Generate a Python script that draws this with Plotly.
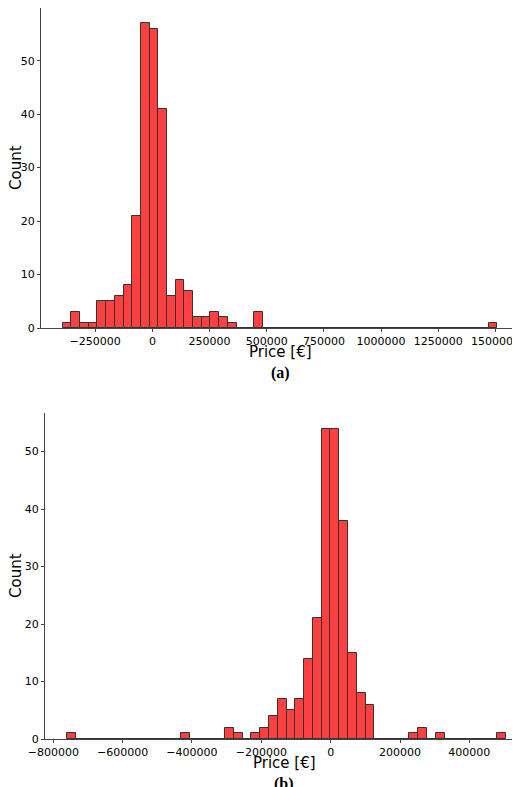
import plotly.graph_objects as go

# (a) histogram, 50 bins
a_start = -392000
a_width = 38000
a_counts = [1, 3, 1, 1, 5, 5, 6, 8, 21, 57, 56, 41, 6, 9, 7, 2, 2, 3, 2, 1,
            0, 0, 3, 0, 0, 0, 0, 0, 0, 0, 0, 0, 0, 0, 0, 0, 0, 0, 0, 0,
            0, 0, 0, 0, 0, 0, 0, 0, 0, 1]

# (b) histogram, 50 bins
b_start = -760600
b_width = 25330
b_counts = [1, 0, 0, 0, 0, 0, 0, 0, 0, 0, 0, 0, 0, 1, 0, 0, 0, 0, 2, 1,
            0, 1, 2, 4, 7, 5, 7, 14, 21, 54, 54, 38, 15, 8, 6, 0, 0, 0, 0, 1,
            2, 0, 1, 0, 0, 0, 0, 0, 0, 1]

a_x = [a_start + (i + 0.5) * a_width for i in range(len(a_counts))]
b_x = [b_start + (i + 0.5) * b_width for i in range(len(b_counts))]

bar_style = dict(marker=dict(color="rgba(255,30,30,0.85)",
                             line=dict(color="#333333", width=1)),
                 showlegend=False)

fig = go.Figure()
fig.add_trace(go.Bar(x=a_x, y=a_counts, width=a_width, xaxis="x", yaxis="y", **bar_style))
fig.add_trace(go.Bar(x=b_x, y=b_counts, width=b_width, xaxis="x2", yaxis="y2", **bar_style))

W, H = 520, 787
axis_common = dict(showline=True, linecolor="#444", linewidth=1.2, ticks="outside",
                   ticklen=3, tickcolor="#444", showgrid=False, zeroline=False,
                   automargin=False, tickangle=0,
                   tickfont=dict(family="DejaVu Sans", size=11, color="black"))

fig.update_layout(
    width=W, height=H, margin=dict(l=0, r=0, t=0, b=0),
    plot_bgcolor="white", paper_bgcolor="white", bargap=0,
    xaxis=dict(domain=[33 / W, 511 / W], range=[-487000, 1603000],
               tickvals=[-250000, 0, 250000, 500000, 750000, 1000000, 1250000, 1500000],
               ticktext=["\u2212250000", "0", "250000", "500000", "750000", "1000000", "1250000", "1500000"],
               anchor="y", **axis_common),
    yaxis=dict(domain=[1 - 320 / H, 1], range=[0, 59.85], tickvals=[0, 10, 20, 30, 40, 50],
               anchor="x", **axis_common),
    xaxis2=dict(domain=[37 / W, 1], range=[-823900, 569200],
                tickvals=[-800000, -600000, -400000, -200000, 0, 200000, 400000],
                ticktext=["\u2212800000", "\u2212600000", "\u2212400000", "\u2212200000", "0", "200000", "400000"],
                anchor="y2", **axis_common),
    yaxis2=dict(domain=[1 - 731 / H, 1 - 405 / H], range=[0, 56.7], tickvals=[0, 10, 20, 30, 40, 50],
                anchor="x2", **axis_common),
)

label_font = dict(family="DejaVu Sans", size=15, color="black")
cap_font = dict(family="Liberation Serif", size=16, color="black")
for txt, x, y, f, ang in [
    ("Price [\u20ac]", 272, 344, label_font, 0),
    ("(a)", 272, 365, cap_font, 0),
    ("Count", 8, 160, label_font, -90),
    ("Price [\u20ac]", 276, 755, label_font, 0),
    ("(b)", 276, 776, cap_font, 0),
    ("Count", 8, 568, label_font, -90),
]:
    fig.add_annotation(text=("<b>%s</b>" % txt) if f is cap_font else txt,
                       x=x / W, y=1 - y / H, xref="paper", yref="paper",
                       showarrow=False, font=f, textangle=ang,
                       xanchor="center", yanchor="middle")

fig.write_html("out.html")
